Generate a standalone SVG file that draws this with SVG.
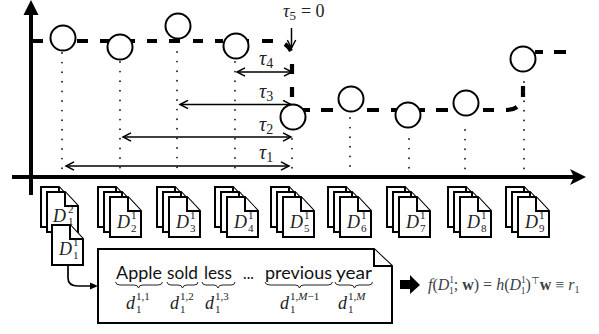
<svg xmlns="http://www.w3.org/2000/svg" width="599" height="334" viewBox="0 0 599 334">
<style>
.axis{fill:none;stroke:#000;stroke-width:4}
.dash{fill:none;stroke:#000;stroke-width:4.2}
.dot{fill:none;stroke:#222;stroke-width:1.9;stroke-linecap:round;stroke-dasharray:0 9.6}
.span{fill:none;stroke:#000;stroke-width:1.5}
.c{fill:#fff;stroke:#000;stroke-width:2}
.pg{fill:#fff;stroke:#000;stroke-width:2;stroke-linejoin:miter}
.br{fill:none;stroke:#222;stroke-width:1}
.m{font-family:"Liberation Serif",serif;font-style:italic;fill:#222}
.n{font-family:"Liberation Serif",serif;fill:#222}
.w{font-family:"Lato","Liberation Sans",sans-serif;font-size:18px;fill:#111}
.f{font-family:"Liberation Serif",serif;font-size:16px;fill:#3a3f4a}
</style>
<defs>
<g id="page"><path class="pg" d="M0,0H18L31,14V40H0Z"/><path class="pg" d="M18,0V14H31"/></g>
<g id="stack"><use href="#page" x="-12" y="-10"/><use href="#page" x="-6" y="-5"/><use href="#page"/></g>
<marker id="ah" markerWidth="11" markerHeight="10" refX="9" refY="5" orient="auto-start-reverse" markerUnits="userSpaceOnUse"><path d="M1,0.8L9,5L1,9.2" fill="none" stroke="#000" stroke-width="1.5"/></marker>
</defs>

<g id="connectors">
<g id="dashed-curve">
<path class="dash" d="M33,41H43M77,41H88M100,41H112M128,41H135M147,41H157M169,41H180M193,41H203M215,41H223M242,41H249M262,41H273M285,44Q289,47 291,51M292,64V74M292,87V97M302,110H310M321,110H333M367,110H379M391,110H397M420,110H425M436,110H448M483,110H494M506,110Q513,110 517,107M523,86V97M535,52H543M554,52H566"/>
</g>
<g id="dotted">
<path class="dot" d="M62,53V176"/><path class="dot" d="M120,62V176"/><path class="dot" d="M177,52V176"/><path class="dot" d="M235,62V176"/><path class="dot" d="M292,139V176"/><path class="dot" d="M350,118V176"/><path class="dot" d="M409,139V176"/><path class="dot" d="M465,130V176"/><path class="dot" d="M524,82V176"/>
</g>
<path class="span" d="M66,166H289" marker-start="url(#ah)" marker-end="url(#ah)"/>
<path class="span" d="M123,137H291" marker-start="url(#ah)" marker-end="url(#ah)"/>
<path class="span" d="M180,104.500H291" marker-start="url(#ah)" marker-end="url(#ah)"/>
<path class="span" d="M237,72H292" marker-start="url(#ah)" marker-end="url(#ah)"/>
<path class="span" d="M291.500,28V48" marker-end="url(#ah)"/>
<path class="axis" d="M31,195V12"/><path d="M31,0L38.500,15H23.500Z"/>
<path class="axis" d="M12,177H574"/><path d="M586,177L570,169L574,177L570,185Z"/>
<path id="doc-link" fill="none" stroke="#000" stroke-width="1.700" d="M68,264V278Q68,286 78,286H96"/>
<path d="M98,286L90,282.500V289.500Z"/>
</g>

<g id="circles">
<circle id="n1" class="c" cx="63" cy="38" r="12.500"/>
<circle id="n2" class="c" cx="120" cy="47" r="12.500"/>
<circle id="n3" class="c" cx="178" cy="26" r="12.500"/>
<circle id="n4" class="c" cx="236" cy="46" r="12.500"/>
<circle id="n5" class="c" cx="293" cy="117" r="12.500"/>
<circle id="n6" class="c" cx="351" cy="99" r="12.500"/>
<circle id="n7" class="c" cx="408" cy="115" r="12.500"/>
<circle id="n8" class="c" cx="466" cy="103" r="12.500"/>
<circle id="n9" class="c" cx="523" cy="59" r="12.500"/>
</g>

<g id="tau-labels">
<text class="m" font-size="20" x="259" y="65">τ<tspan font-size="14" font-style="normal" dy="3">4</tspan></text>
<text class="m" font-size="20" x="259" y="98">τ<tspan font-size="14" font-style="normal" dy="3">3</tspan></text>
<text class="m" font-size="20" x="259" y="131">τ<tspan font-size="14" font-style="normal" dy="3">2</tspan></text>
<text class="m" font-size="20" x="259" y="159">τ<tspan font-size="14" font-style="normal" dy="3">1</tspan></text>
<text class="m" font-size="18" x="283" y="17">τ<tspan font-size="13" font-style="normal" dy="3">5</tspan><tspan font-size="18" font-style="normal" dy="-3" dx="5">= 0</tspan></text>
</g>

<g id="stack-1"><use href="#page" x="41" y="187"/><use href="#page" x="47" y="192"/><text class="m" font-size="18" x="53" y="222">D</text><text class="n" font-size="11" x="68" y="213">2</text><text class="n" font-size="11" x="68" y="225">1</text></g>
<g id="stack-2"><use href="#stack" x="110" y="197"/><text class="m" font-size="18" x="117" y="228">D</text><text class="n" font-size="11" x="131" y="219">1</text><text class="n" font-size="11" x="131" y="232">2</text></g>
<g id="stack-3"><use href="#stack" x="169" y="197"/><text class="m" font-size="18" x="176" y="228">D</text><text class="n" font-size="11" x="190" y="219">1</text><text class="n" font-size="11" x="190" y="232">3</text></g>
<g id="stack-4"><use href="#stack" x="227" y="197"/><text class="m" font-size="18" x="234" y="228">D</text><text class="n" font-size="11" x="248" y="219">1</text><text class="n" font-size="11" x="248" y="232">4</text></g>
<g id="stack-5"><use href="#stack" x="283" y="197"/><text class="m" font-size="18" x="290" y="228">D</text><text class="n" font-size="11" x="304" y="219">1</text><text class="n" font-size="11" x="304" y="232">5</text></g>
<g id="stack-6"><use href="#stack" x="340" y="197"/><text class="m" font-size="18" x="347" y="228">D</text><text class="n" font-size="11" x="361" y="219">1</text><text class="n" font-size="11" x="361" y="232">6</text></g>
<g id="stack-7"><use href="#stack" x="399" y="197"/><text class="m" font-size="18" x="406" y="228">D</text><text class="n" font-size="11" x="420" y="219">1</text><text class="n" font-size="11" x="420" y="232">7</text></g>
<g id="stack-8"><use href="#stack" x="460" y="197"/><text class="m" font-size="18" x="467" y="228">D</text><text class="n" font-size="11" x="481" y="219">1</text><text class="n" font-size="11" x="481" y="232">8</text></g>
<g id="stack-9"><use href="#stack" x="518" y="197"/><text class="m" font-size="18" x="525" y="228">D</text><text class="n" font-size="11" x="539" y="219">1</text><text class="n" font-size="11" x="539" y="232">9</text></g>

<g id="doc-single"><use href="#page" x="52" y="225"/><text class="m" font-size="18" x="59" y="255">D</text><text class="n" font-size="11" x="73" y="246">1</text><text class="n" font-size="11" x="73" y="259">1</text></g>

<g id="sentence-doc">
<path class="pg" d="M98,249H374L392,266V323H98Z"/><path class="pg" d="M374,249V266H392"/>
<g id="words">
<text class="w" x="116" y="279" textLength="46" lengthAdjust="spacingAndGlyphs">Apple</text>
<text class="w" x="167" y="279" textLength="31" lengthAdjust="spacingAndGlyphs">sold</text>
<text class="w" x="204" y="279" textLength="28" lengthAdjust="spacingAndGlyphs">less</text>
<text class="w" x="243" y="279" textLength="11" lengthAdjust="spacingAndGlyphs">...</text>
<text class="w" x="265" y="279" textLength="67" lengthAdjust="spacingAndGlyphs">previous</text>
<text class="w" x="336" y="279" textLength="36" lengthAdjust="spacingAndGlyphs">year</text>
</g>
<path class="br" d="M115.500,282Q116,285 120,285H134Q138,285 138.500,288Q139,285 143,285H158Q162,285 162.500,282"/>
<path class="br" d="M167,282Q167.500,285 171,285H178Q182,285 182.500,288Q183,285 187,285H194Q198,285 198,282"/>
<path class="br" d="M202,282Q202.500,285 206,285H214Q217,285 218,288Q219,285 222,285H231Q235,285 235,282"/>
<path class="br" d="M265,282Q265.500,285 270,285H295Q299,285 299.500,288Q300,285 304,285H328Q332,285 332.500,282"/>
<path class="br" d="M335,282Q335.500,285 339,285H350Q354,285 354.500,288Q355,285 359,285H369Q372,285 372.500,282"/>
<g id="word-labels">
<text class="m" font-size="18" x="126" y="309">d</text><text class="n" font-size="11" x="136" y="300">1,1</text><text class="n" font-size="11" x="136" y="313">1</text>
<text class="m" font-size="18" x="170" y="309">d</text><text class="n" font-size="11" x="180" y="300">1,2</text><text class="n" font-size="11" x="180" y="313">1</text>
<text class="m" font-size="18" x="205" y="309">d</text><text class="n" font-size="11" x="215" y="300">1,3</text><text class="n" font-size="11" x="215" y="313">1</text>
<text class="m" font-size="18" x="280" y="309">d</text><text class="n" font-size="11" x="290" y="300">1,<tspan font-style="italic">M</tspan>−1</text><text class="n" font-size="11" x="290" y="313">1</text>
<text class="m" font-size="18" x="338" y="309">d</text><text class="n" font-size="11" x="348" y="300">1,<tspan font-style="italic">M</tspan></text><text class="n" font-size="11" x="348" y="313">1</text>
</g>
</g>

<g id="result">
<path d="M400,280H410V275L420,285L410,294V289H400Z"/>
<text class="f" x="428" y="290"><tspan font-style="italic">f</tspan>(<tspan font-style="italic">D</tspan><tspan font-size="9.500" dy="-7">1</tspan><tspan font-size="9.500" dx="-4.750" dy="11">1</tspan><tspan dy="-4">; </tspan><tspan font-weight="bold">w</tspan>) = <tspan font-style="italic">h</tspan>(<tspan font-style="italic">D</tspan><tspan font-size="9.500" dy="-7">1</tspan><tspan font-size="9.500" dx="-4.750" dy="11">1</tspan><tspan dy="-4">)</tspan><tspan font-size="10" dy="-6">⊤</tspan><tspan font-weight="bold" dy="6">w</tspan> ≡ <tspan font-style="italic">r</tspan><tspan font-size="10" dy="3">1</tspan></text>
</g>
</svg>
